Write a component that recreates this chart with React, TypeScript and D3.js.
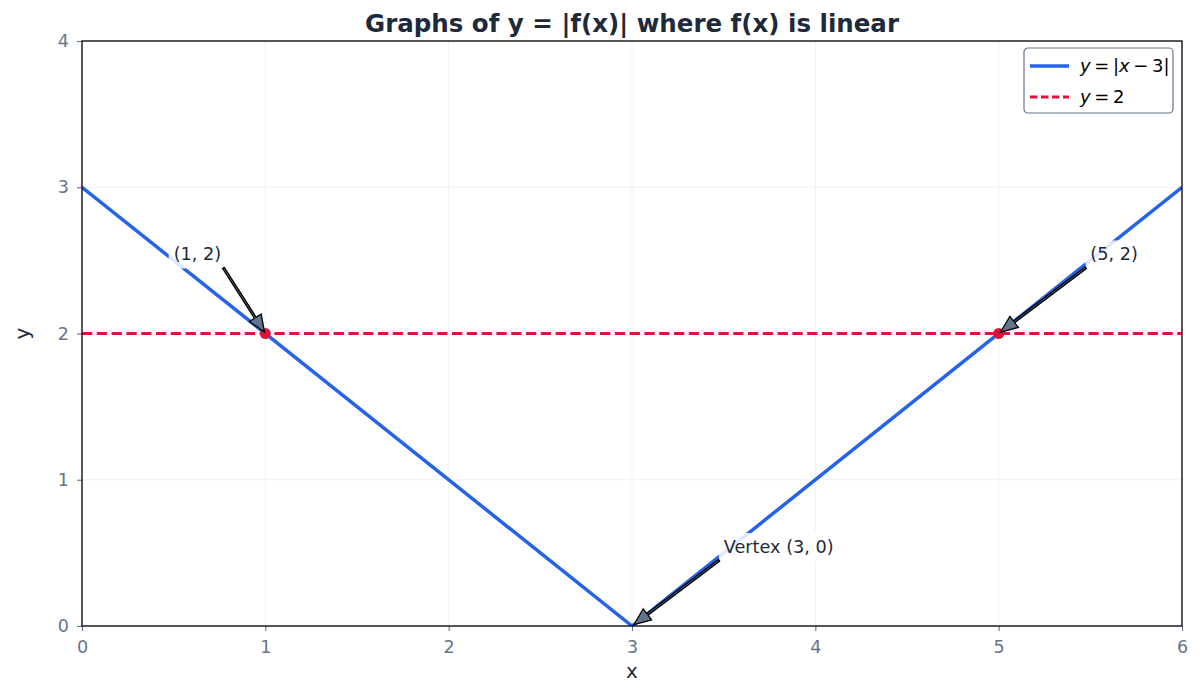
import React, { useEffect, useRef } from 'react';
import * as d3 from 'd3';

// Series
const absPoints = [
  { x: 0, y: 3 },
  { x: 3, y: 0 },
  { x: 6, y: 3 },
];
const horizontalY = 2;
const intersections = [
  { x: 1, y: 2 },
  { x: 5, y: 2 },
];
const annotations = [
  { label: '(1, 2)', x: 1, y: 2, tx: 0.5, ty: 2.5 },
  { label: '(5, 2)', x: 5, y: 2, tx: 5.5, ty: 2.5 },
  { label: 'Vertex (3, 0)', x: 3, y: 0, tx: 3.5, ty: 0.5 },
];
const xTicks = [0, 1, 2, 3, 4, 5, 6];
const yTicks = [0, 1, 2, 3, 4];

const FONT = '"DejaVu Sans", Verdana, sans-serif';
const BLUE = '#2563eb';
const RED = '#dc143c';
const TICK = '#64748b';
const DARK = '#1e293b';

const App: React.FC = () => {
  const svgRef = useRef<SVGSVGElement>(null);

  useEffect(() => {
    if (!svgRef.current) return;
    document.body.style.margin = '0';
    const width = 1200;
    const height = 695;
    const margin = { top: 41, right: 18, bottom: 69, left: 82 };

    const root = d3.select(svgRef.current);
    root.selectAll('*').remove();
    root.attr('width', width).attr('height', height).style('font-family', FONT);

    const x = d3.scaleLinear().domain([0, 6]).range([margin.left, width - margin.right]);
    const y = d3.scaleLinear().domain([0, 4]).range([height - margin.bottom, margin.top]);

    root.append('rect').attr('width', width).attr('height', height).attr('fill', '#fff');

    root.append('defs').append('clipPath').attr('id', 'plot-clip')
      .append('rect')
      .attr('x', x(0)).attr('y', y(4))
      .attr('width', x(6) - x(0)).attr('height', y(0) - y(4));

    // Grid
    const grid = root.append('g');
    grid.selectAll('line.gx').data(xTicks).enter().append('line')
      .attr('x1', d => x(d)).attr('x2', d => x(d))
      .attr('y1', y(0)).attr('y2', y(4))
      .attr('stroke', '#cbd5e1').attr('stroke-opacity', 0.3).attr('stroke-width', 1);
    grid.selectAll('line.gy').data(yTicks).enter().append('line')
      .attr('y1', d => y(d)).attr('y2', d => y(d))
      .attr('x1', x(0)).attr('x2', x(6))
      .attr('stroke', '#cbd5e1').attr('stroke-opacity', 0.3).attr('stroke-width', 1);

    const plot = root.append('g').attr('clip-path', 'url(#plot-clip)');

    // y = 2
    plot.append('line')
      .attr('x1', x(0)).attr('x2', x(6))
      .attr('y1', y(horizontalY)).attr('y2', y(horizontalY))
      .attr('stroke', RED).attr('stroke-width', 2.8)
      .attr('stroke-dasharray', '10.3,4.5');

    // y = |x - 3|
    const line = d3.line<{ x: number; y: number }>().x(d => x(d.x)).y(d => y(d.y));
    plot.append('path').datum(absPoints)
      .attr('d', line)
      .attr('fill', 'none').attr('stroke', BLUE).attr('stroke-width', 3.5);

    // Intersection points
    root.selectAll('circle.pt').data(intersections).enter().append('circle')
      .attr('cx', d => x(d.x)).attr('cy', d => y(d.y)).attr('r', 5.5)
      .attr('fill', RED);

    // Axes
    const xAxis = root.append('g').attr('transform', `translate(0,${y(0)})`)
      .call(d3.axisBottom(x).tickValues(xTicks).tickFormat(d3.format('d')).tickSize(5).tickPadding(9.5));
    const yAxis = root.append('g').attr('transform', `translate(${x(0)},0)`)
      .call(d3.axisLeft(y).tickValues(yTicks).tickFormat(d3.format('d')).tickSize(5).tickPadding(8));
    [xAxis, yAxis].forEach(a => {
      a.select('.domain').remove();
      a.selectAll('.tick line').attr('stroke', TICK).attr('stroke-width', 1.1);
      a.selectAll('.tick text').attr('fill', TICK).style('font-size', '17.5px').style('font-family', FONT);
    });

    // Frame
    root.append('rect')
      .attr('x', x(0)).attr('y', y(4))
      .attr('width', x(6) - x(0)).attr('height', y(0) - y(4))
      .attr('fill', 'none').attr('stroke', '#000').attr('stroke-width', 1.3);

    // Annotations
    annotations.forEach(a => {
      const g = root.append('g');
      const bg = g.append('rect');
      const t = g.append('text')
        .attr('x', x(a.tx)).attr('y', y(a.ty))
        .attr('fill', DARK).style('font-size', '17.7px')
        .text(a.label);
      const bb = (t.node() as SVGTextElement).getBBox();
      const pad = 5;
      bg.attr('x', bb.x - pad).attr('y', bb.y - pad + 1)
        .attr('width', bb.width + pad * 2).attr('height', bb.height + pad * 2 - 2)
        .attr('rx', 5).attr('fill', '#fff').attr('fill-opacity', 0.85);

      // arrow start: nearest of the bbox anchor points, then shrink 5%
      const px = x(a.x);
      const py = y(a.y);
      const xs = [bb.x, bb.x + bb.width / 2, bb.x + bb.width];
      const ys = [bb.y, bb.y + bb.height / 2, bb.y + bb.height];
      const sx = xs.reduce((p, c) => (Math.abs(c - px) < Math.abs(p - px) ? c : p));
      const sy = ys.reduce((p, c) => (Math.abs(c - py) < Math.abs(p - py) ? c : p));
      const dx = px - sx;
      const dy = py - sy;
      const x0 = sx + dx * 0.05;
      const y0 = sy + dy * 0.05;
      const x1 = px - dx * 0.02;
      const y1 = py - dy * 0.02;
      const len = Math.hypot(x1 - x0, y1 - y0);
      const ux = (x1 - x0) / len;
      const uy = (y1 - y0) / len;
      const nx = -uy;
      const ny = ux;
      const headLen = 17;
      const headW = 7;
      const shaftW = 1;
      const bx = x1 - ux * headLen;
      const by = y1 - uy * headLen;
      const path = [
        [x0 + nx * shaftW, y0 + ny * shaftW],
        [bx + nx * shaftW, by + ny * shaftW],
        [bx + nx * headW, by + ny * headW],
        [x1, y1],
        [bx - nx * headW, by - ny * headW],
        [bx - nx * shaftW, by - ny * shaftW],
        [x0 - nx * shaftW, y0 - ny * shaftW],
      ];
      root.append('path')
        .attr('d', 'M' + path.map(p => p.join(',')).join('L') + 'Z')
        .attr('fill', TICK).attr('stroke', '#000').attr('stroke-width', 1.3)
        .attr('stroke-linejoin', 'miter');
    });

    // Title and axis labels
    root.append('text')
      .attr('x', (x(0) + x(6)) / 2).attr('y', 32)
      .attr('text-anchor', 'middle').attr('fill', DARK)
      .style('font-size', '24.5px').style('font-weight', 'bold')
      .text('Graphs of y = |f(x)| where f(x) is linear');
    root.append('text')
      .attr('x', (x(0) + x(6)) / 2).attr('y', 678)
      .attr('text-anchor', 'middle').attr('fill', DARK)
      .style('font-size', '20px').text('x');
    root.append('text')
      .attr('transform', `translate(29,${(y(0) + y(4)) / 2}) rotate(-90)`)
      .attr('text-anchor', 'middle').attr('fill', DARK)
      .style('font-size', '20px').text('y');

    // Legend
    const lg = root.append('g').attr('transform', `translate(${x(6) - 158},${y(4) + 7})`);
    lg.append('rect').attr('x', 0).attr('y', 0).attr('width', 149).attr('height', 65)
      .attr('rx', 4).attr('fill', '#fff').attr('stroke', '#64748b').attr('stroke-width', 1.2);
    const thin = '\u2009';
    const items = [
      { color: BLUE, dash: null as string | null, parts: [['y', true], [`${thin}=${thin}|`, false], ['x', true], [`${thin}\u2212${thin}3|`, false]] as [string, boolean][] },
      { color: RED, dash: '7.5,3.5', parts: [['y', true], [`${thin}=${thin}2`, false]] as [string, boolean][] },
    ];
    items.forEach((it, i) => {
      const cy = 18 + i * 31;
      lg.append('line').attr('x1', 6).attr('x2', 45).attr('y1', cy).attr('y2', cy)
        .attr('stroke', it.color).attr('stroke-width', it.dash ? 2.8 : 3.5)
        .attr('stroke-dasharray', it.dash);
      const t = lg.append('text').attr('x', 56).attr('y', cy + 6)
        .attr('fill', '#000').style('font-size', '18px');
      it.parts.forEach(([s, ital]) => {
        t.append('tspan').style('font-style', ital ? 'italic' : 'normal').text(s);
      });
    });
  }, []);

  return <svg ref={svgRef} style={{ display: 'block' }} />;
};

export default App;
